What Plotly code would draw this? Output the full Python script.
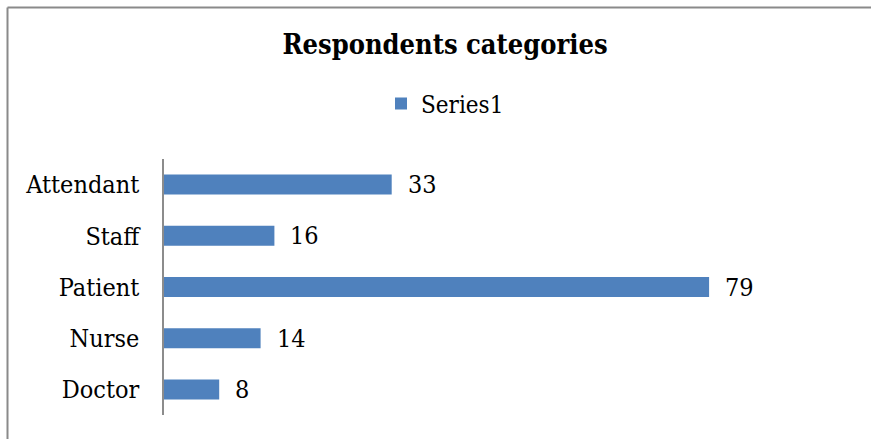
import plotly.graph_objects as go

categories = ["Doctor", "Nurse", "Patient", "Staff", "Attendant"]
values = [8, 14, 79, 16, 33]
series_name = "Series1"
title_text = "Respondents categories"

W, H = 871, 439
ML, MR, MT, MB = 164, 17, 159, 24
FONT = "DejaVu Serif Condensed, DejaVu Serif"
BAR = "#4F81BD"

fig = go.Figure()
fig.add_trace(go.Bar(
    y=categories, x=values, orientation="h", name=series_name,
    marker=dict(color=BAR, line=dict(width=0)),
    width=0.39, showlegend=True,
))

for c, v in zip(categories, values):
    fig.add_annotation(x=v, y=c, xref="x", yref="y", text=str(v),
                       showarrow=False, xanchor="left", yanchor="middle",
                       xshift=14, font=dict(family=FONT, size=25, color="#000"))

pw = W - ML - MR
ph = H - MT - MB
def px2x(p): return (p - ML) / pw
def py2y(p): return (H - MB - p) / ph

# frame (top and left edges visible)
fig.add_shape(type="line", xref="paper", yref="paper",
              x0=px2x(7.5), x1=px2x(872), y0=py2y(7.5), y1=py2y(7.5),
              line=dict(color="#8a8a8a", width=2))
fig.add_shape(type="line", xref="paper", yref="paper",
              x0=px2x(7.5), x1=px2x(7.5), y0=py2y(7.5), y1=py2y(440),
              line=dict(color="#8a8a8a", width=2))

fig.update_layout(
    width=W, height=H,
    margin=dict(l=ML, r=MR, t=MT, b=MB),
    paper_bgcolor="white", plot_bgcolor="white",
    title=dict(text="<b>" + title_text + "</b>", xref="container", yref="container",
               x=445 / W, xanchor="center", y=1 - 45 / H, yanchor="middle",
               font=dict(family=FONT, size=27, color="#000")),
    legend=dict(orientation="h", xref="container", yref="container",
                x=445 / W, xanchor="center", y=1 - 104 / H, yanchor="middle",
                font=dict(family=FONT, size=24, color="#000"),
                itemwidth=30),
    xaxis=dict(range=[0, 100], showgrid=False, zeroline=False, showline=False,
               showticklabels=False, ticks=""),
    yaxis=dict(categoryorder="array", categoryarray=categories,
               range=[-0.5, len(categories) - 0.5],
               showgrid=False, zeroline=False, showline=True,
               linecolor="#8c8c8c", linewidth=1.5, ticks="",
               ticklabelstandoff=18,
               tickfont=dict(family=FONT, size=25, color="#000")),
    bargap=0.61,
)

fig.write_html("out.html")
